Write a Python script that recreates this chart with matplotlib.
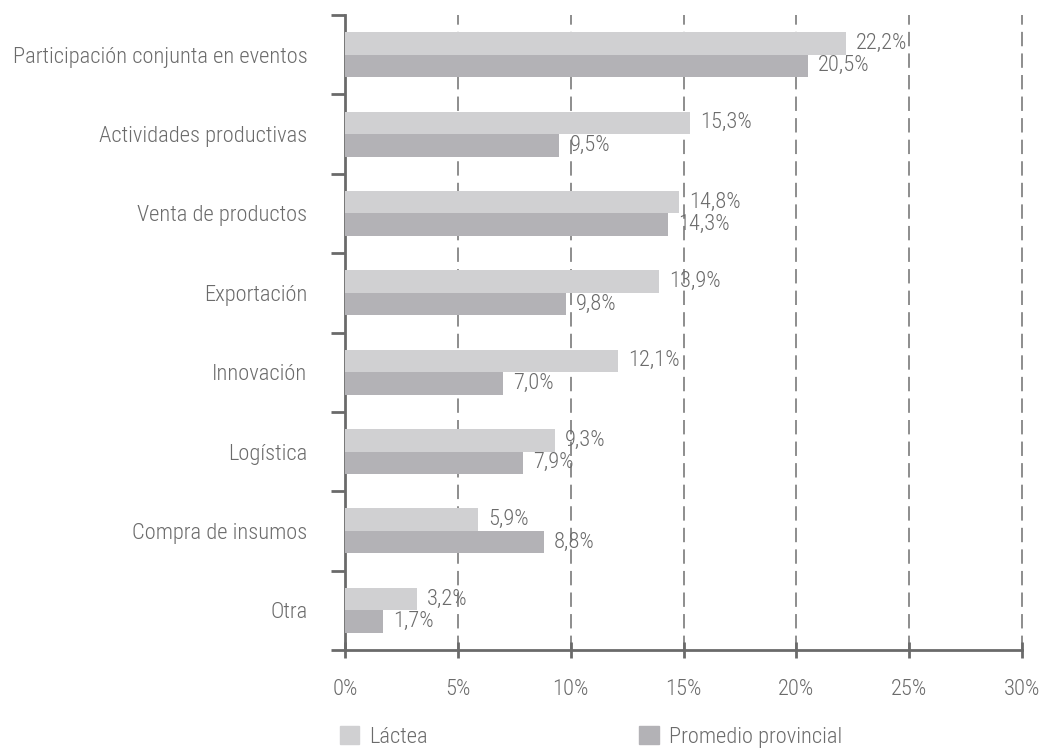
import matplotlib.pyplot as plt
import matplotlib.patches as patches
import numpy as np

categorias = ["Participación conjunta en eventos", "Actividades productivas",
              "Venta de productos", "Exportación", "Innovación", "Logística",
              "Compra de insumos", "Otra"]
lactea = [22.2, 15.3, 14.8, 13.9, 12.1, 9.3, 5.9, 3.2]
promedio = [20.5, 9.5, 14.3, 9.8, 7.0, 7.9, 8.8, 1.7]
series = ["Láctea", "Promedio provincial"]
xticks = [0, 5, 10, 15, 20, 25, 30]

plt.rcParams["font.family"] = ["Roboto Condensed", "DejaVu Sans"]
plt.rcParams["font.weight"] = "light"

c_light = "#d0d0d2"
c_dark = "#b3b2b6"
c_axis = "#6a6a6a"
c_text = "#6b6b6b"
fs = 16.2

fig = plt.figure(figsize=(10.47, 7.49), dpi=100)
ax = fig.add_axes([345 / 1047, 1 - 650 / 749, 677 / 1047, 635 / 749])

n = len(categorias)
y = np.arange(n)
h = 0.283
ax.barh(y - h / 2, lactea, height=h, color=c_light, zorder=3)
ax.barh(y + h / 2, promedio, height=h, color=c_dark, zorder=3)

# etiquetas de valor
for yi, v in zip(y, lactea):
    ax.text(v + 0.45, yi - h / 2, f"{v:.1f}%".replace(".", ","), va="center",
            ha="left", fontsize=fs, color=c_text, zorder=4)
for yi, v in zip(y, promedio):
    ax.text(v + 0.45, yi + h / 2, f"{v:.1f}%".replace(".", ","), va="center",
            ha="left", fontsize=fs, color=c_text, zorder=4)

ax.set_xlim(0, 30)
ax.set_ylim(n - 0.5, -0.5)
ax.set_xticks(xticks)
ax.set_xticklabels([f"{t}%" for t in xticks])
ax.set_yticks(y)
ax.set_yticklabels(categorias)
ax.set_yticks(np.arange(n + 1) - 0.5, minor=True)

for t in xticks[1:]:
    ax.axvline(t, color="#747474", linestyle=(0, (9, 4.5)), linewidth=1.15,
               zorder=0, clip_on=False)

for s in ["top", "right"]:
    ax.spines[s].set_visible(False)
for s in ["left", "bottom"]:
    ax.spines[s].set_color(c_axis)
    ax.spines[s].set_linewidth(2)

ax.tick_params(axis="y", which="major", length=0, pad=27, labelsize=fs, labelcolor=c_text)
ax.tick_params(axis="y", which="minor", length=10, width=2, color=c_axis)
ax.tick_params(axis="x", which="major", direction="inout", length=12, width=2,
               color=c_axis, pad=15, labelsize=fs, labelcolor=c_text)

handles = [patches.Patch(color=c_light), patches.Patch(color=c_dark)]
fig.legend(handles, series, loc="center left", bbox_to_anchor=(340 / 1047, 1 - 737 / 749),
           ncol=2, frameon=False, borderpad=0, borderaxespad=0,
           handlelength=0.85, handleheight=0.85, handletextpad=0.45,
           columnspacing=9.4, fontsize=fs, labelcolor=c_text)

plt.savefig("out.png", dpi=100)
